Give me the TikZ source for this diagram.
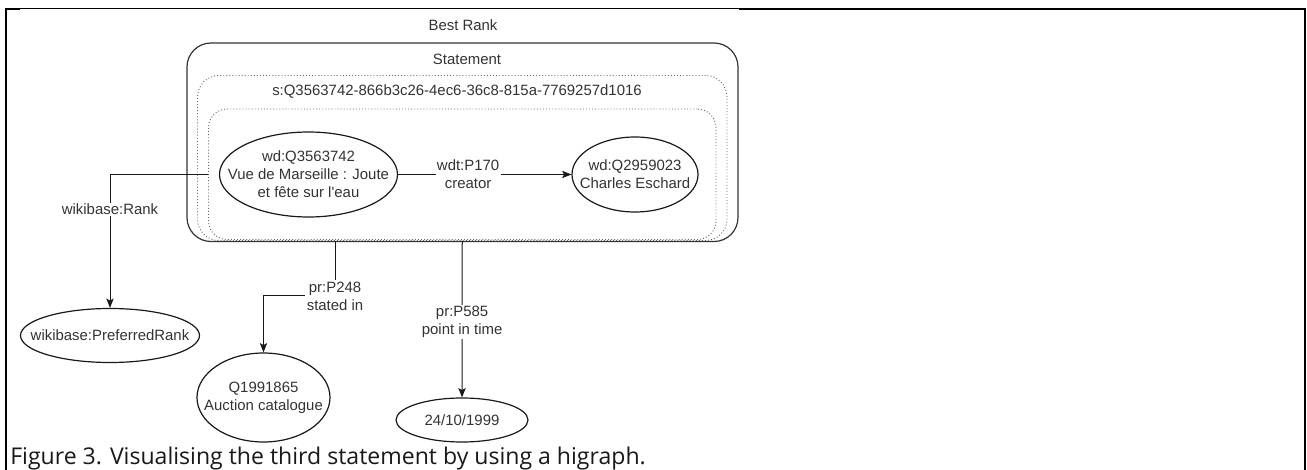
\documentclass[tikz,border=0pt]{standalone}
\usepackage{fontspec}
\setmainfont{Liberation Sans}[Ligatures=TeXOff]
\newfontfamily\capfont{Open Sans}
\usetikzlibrary{arrows.meta,shapes.geometric,calc}
\begin{document}
\begin{tikzpicture}[x=0.75pt,y=-0.75pt,
  txt/.style={font=\fontsize{11.2}{13.5}\selectfont, text=black!80, align=center, inner sep=0pt},
  ent/.style={ellipse, draw=black!90, line width=0.9pt, inner sep=0pt},
  solidbox/.style={rectangle, draw=black!80, line width=0.9pt, inner sep=0pt},
  dotbox/.style={rectangle, draw=black!60, line width=0.7pt, dash pattern=on 0.7pt off 1.6pt, inner sep=0pt},
  conn/.style={draw=black!90, line width=0.75pt},
  arr/.style={conn, -{Stealth[length=7pt,width=5.5pt,inset=1.5pt]}},
  lbl/.style={txt, fill=white, inner sep=1pt},
]
\useasboundingbox (0,0) rectangle (1307,470);

% frame
\draw[line width=0.75pt] (5,9) -- (739,9);
\draw[line width=1.5pt] (739,9.5) -- (1305,9.5);
\draw[line width=1.5pt] (5,9.5) -- (20,9.5);
\draw[line width=1.5pt] (5.5,8.5) -- (5.5,470);
\draw[line width=1.5pt] (1304.5,8.5) -- (1304.5,470);

% boxes
\node[solidbox, rounded corners=18pt, minimum width=413.25pt, minimum height=148.9pt] (stmt) at (462.5,142.25) {};
\node[dotbox, rounded corners=16pt, minimum width=397.1pt, minimum height=123.75pt] (sq) at (462.25,158) {};
\node[dotbox, rounded corners=14pt, minimum width=380.6pt, minimum height=97.9pt] (tr) at (462.25,174.25) {};

\node[txt] (best) at (463,25.5) {Best Rank};
\node[txt] (stmtlbl) at (467,59) {Statement};
\node[txt] (sqlbl) at (457,92) {s:Q3563742-866b3c26-4ec6-36c8-815a-7769257d1016};

% entities
\node[ent, minimum width=133.5pt, minimum height=63.75pt,
  label={[txt]center:{wd:Q3563742\\Vue de Marseille : Joute\\et fête sur l'eau}}] (e1) at (308.5,174.5) {};
\node[ent, minimum width=94.5pt, minimum height=56.25pt,
  label={[txt]center:{wd:Q2959023\\Charles Eschard}}] (e2) at (635,174.5) {};
\node[ent, minimum width=134.25pt, minimum height=40.5pt,
  label={[txt]center:{wikibase:PreferredRank}}] (pref) at (110,335.5) {};
\node[ent, minimum width=99.75pt, minimum height=66.75pt,
  label={[txt]center:{Q1991865\\Auction catalogue}}] (q) at (263.5,397.5) {};
\node[ent, minimum width=99pt, minimum height=33pt,
  label={[txt]center:{24/10/1999}}] (d) at (462,420) {};

\coordinate (k248) at (263.5,296);

% connectors
\draw[arr] (e1) -- node[lbl, pos=0.404] {wdt:P170\\creator} (e2);
\draw[arr] (tr.west) -| node[lbl, pos=0.632] {wikibase:Rank} (pref.north);
\draw[arr] ([xshift=-95.4pt]sq.south) |- node[lbl, pos=0.5] {pr:P248\\stated in} (k248) -- (q.north);
\draw[arr] (sq.south) -- node[lbl, pos=0.517] {pr:P585\\point in time} (d.north);

% caption
\node[anchor=base west, font=\capfont\fontsize{17.3}{19}\selectfont, text=black!90, inner sep=0pt] (cap) at (10,464) {Figure 3. Visualising the third statement by using a higraph.};
\end{tikzpicture}
\end{document}
